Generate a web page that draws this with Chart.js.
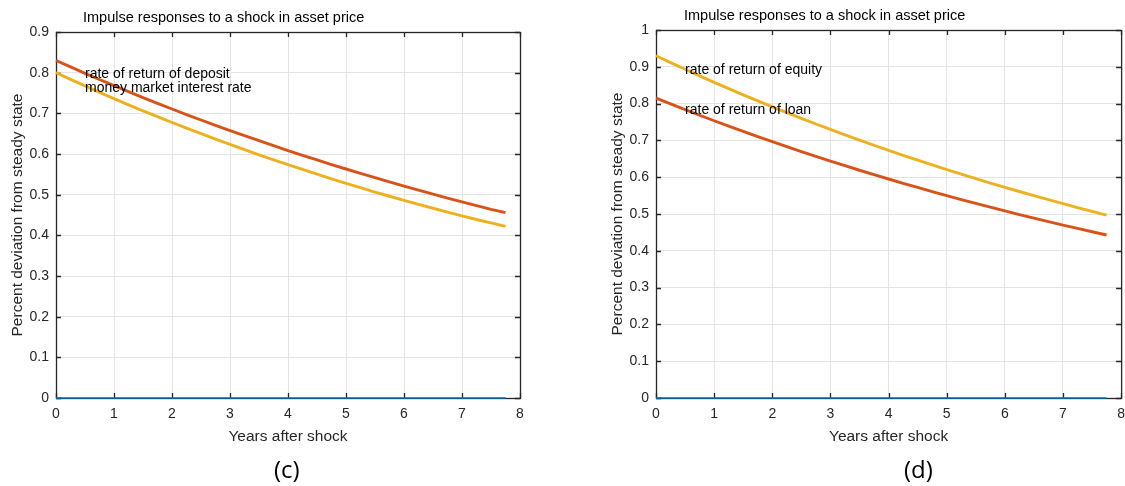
<!DOCTYPE html>
<html>
<head>
<meta charset="utf-8">
<script src="https://cdn.jsdelivr.net/npm/chart.js@4.4.1/dist/chart.umd.min.js"></script>
<style>
  body { margin: 0; background: #fff; width: 1125px; height: 486px; overflow: hidden; position: relative; }
  canvas { position: absolute; top: 0; }
  #left { left: 0; }
  #right { left: 600px; }
  .title { position: absolute; font: 14.5px "Liberation Sans", Arial, sans-serif; color: #000; white-space: nowrap; }
  .panel { position: absolute; top: 452px; font: 24px "Open Sans", "Noto Sans", sans-serif; color: #000; }
</style>
</head>
<body>
<canvas id="left" width="560" height="460"></canvas>
<canvas id="right" width="533" height="460"></canvas>
<div class="title" style="left:83px; top:9px;">Impulse responses to a shock in asset price</div>
<div class="title" style="left:684px; top:7px;">Impulse responses to a shock in asset price</div>
<div class="panel" style="left:274px;">(c)</div>
<div class="panel" style="left:904px;">(d)</div>
<script>
// quarters, expressed in years after the shock
var years = [0, 0.25, 0.5, 0.75, 1, 1.25, 1.5, 1.75, 2, 2.25, 2.5, 2.75, 3, 3.25, 3.5, 3.75,
             4, 4.25, 4.5, 4.75, 5, 5.25, 5.5, 5.75, 6, 6.25, 6.5, 6.75, 7, 7.25, 7.5, 7.75];

// panel (c)
var depositRate = [0.830, 0.8141, 0.7984, 0.7831, 0.7680, 0.7533, 0.7388, 0.7246, 0.7107, 0.6970, 0.6836,
                   0.6705, 0.6576, 0.6450, 0.6326, 0.6205, 0.6085, 0.5968, 0.5854, 0.5741, 0.5631, 0.5523,
                   0.5417, 0.5313, 0.5211, 0.5111, 0.5012, 0.4916, 0.4822, 0.4729, 0.4640, 0.4560];
var moneyMarketRate = [0.800, 0.7836, 0.7674, 0.7516, 0.7362, 0.7210, 0.7062, 0.6917, 0.6775, 0.6636, 0.6499,
                       0.6365, 0.6235, 0.6107, 0.5981, 0.5858, 0.5738, 0.5620, 0.5504, 0.5391, 0.5280, 0.5172,
                       0.5065, 0.4961, 0.4860, 0.4762, 0.4666, 0.4572, 0.4480, 0.4390, 0.4305, 0.4220];

// panel (d)
var equityReturn = [0.930, 0.9114, 0.8932, 0.8753, 0.8578, 0.8406, 0.8238, 0.8073, 0.7911, 0.7753, 0.7598,
                    0.7446, 0.7297, 0.7151, 0.7008, 0.6868, 0.6730, 0.6596, 0.6464, 0.6334, 0.6208, 0.6083,
                    0.5962, 0.5842, 0.5725, 0.5611, 0.5499, 0.5389, 0.5281, 0.5175, 0.5072, 0.4970];
var loanReturn = [0.815, 0.7991, 0.7836, 0.7683, 0.7534, 0.7387, 0.7243, 0.7102, 0.6964, 0.6829, 0.6696,
                  0.6565, 0.6437, 0.6312, 0.6189, 0.6069, 0.5951, 0.5835, 0.5721, 0.5610, 0.5500, 0.5393,
                  0.5288, 0.5185, 0.5084, 0.4985, 0.4888, 0.4793, 0.4700, 0.4608, 0.4518, 0.4430];

// first series of each panel stays at zero
var zeroLine = [0, 0, 0, 0, 0, 0, 0, 0, 0, 0, 0, 0, 0, 0, 0, 0,
                0, 0, 0, 0, 0, 0, 0, 0, 0, 0, 0, 0, 0, 0, 0, 0];

var xTicks = [0, 1, 2, 3, 4, 5, 6, 7, 8];

var BLUE = '#0072BD', RED = '#D95319', YELLOW = '#EDB120', AXIS = '#262626';
var FONT = '"Liberation Sans", Arial, sans-serif';

function points(ys) {
    return years.map(function(x, i) { return { x: x, y: ys[i] }; });
}

// box around the plot with inward ticks, plus the text labels
var framePlugin = {
    id: 'frame',
    beforeDatasetsDraw: function(chart) {
        var ctx = chart.ctx, a = chart.chartArea;
        var sx = chart.scales.x, sy = chart.scales.y;
        ctx.save();
        ctx.strokeStyle = AXIS;
        ctx.lineWidth = 1.3;
        ctx.strokeRect(a.left + 0.5, a.top + 0.5, a.right - a.left, a.bottom - a.top);
        ctx.beginPath();
        sx.ticks.forEach(function(t) {
            var px = Math.round(sx.getPixelForValue(t.value)) + 0.5;
            ctx.moveTo(px, a.bottom); ctx.lineTo(px, a.bottom - 5);
            ctx.moveTo(px, a.top); ctx.lineTo(px, a.top + 5);
        });
        sy.ticks.forEach(function(t) {
            var py = Math.round(sy.getPixelForValue(t.value)) + 0.5;
            ctx.moveTo(a.left, py); ctx.lineTo(a.left + 5, py);
            ctx.moveTo(a.right, py); ctx.lineTo(a.right - 5, py);
        });
        ctx.stroke();
        ctx.restore();
    },
    afterDatasetsDraw: function(chart, args, opts) {
        var ctx = chart.ctx;
        ctx.save();
        ctx.fillStyle = '#000';
        ctx.font = '14px ' + FONT;
        ctx.textBaseline = 'middle';
        (opts.notes || []).forEach(function(n) {
            ctx.fillText(n.text, chart.scales.x.getPixelForValue(n.x), chart.scales.y.getPixelForValue(n.y));
        });
        ctx.restore();
    }
};

function makeChart(id, yMax, datasets, notes, top, right) {
    return new Chart(document.getElementById(id), {
        type: 'line',
        data: { datasets: datasets },
        options: {
            responsive: false,
            animation: false,
            devicePixelRatio: 1,
            layout: { padding: { top: top, right: right, left: 0, bottom: 14 } },
            elements: { point: { radius: 0 } },
            plugins: { legend: { display: false }, tooltip: { enabled: false }, frame: { notes: notes } },
            scales: {
                x: {
                    type: 'linear', min: 0, max: 8,
                    afterBuildTicks: function(s) { s.ticks = xTicks.map(function(v) { return { value: v }; }); },
                    afterFit: function(s) { s.height = 48; },
                    grid: { color: '#e4e4e4', drawTicks: false },
                    border: { display: false },
                    ticks: { color: AXIS, font: { family: FONT, size: 14 }, padding: 8, maxRotation: 0 },
                    title: { display: true, text: 'Years after shock', color: AXIS, font: { family: FONT, size: 15.5 }, padding: { top: 4, bottom: 0 } }
                },
                y: {
                    min: 0, max: yMax,
                    afterFit: function(s) { s.width = 56; },
                    grid: { color: '#e4e4e4', drawTicks: false },
                    border: { display: false },
                    ticks: {
                        stepSize: 0.1, color: AXIS, font: { family: FONT, size: 14 }, padding: 7,
                        callback: function(v) { return String(Math.round(v * 10) / 10); }
                    },
                    title: { display: true, text: 'Percent deviation from steady state', color: AXIS, font: { family: FONT, size: 15.5 }, padding: { top: 8, bottom: 0 } }
                }
            }
        },
        plugins: [framePlugin]
    });
}

function line(ys, color, width) {
    return { data: points(ys), borderColor: color, borderWidth: width, fill: false, clip: false, tension: 0 };
}

makeChart('left', 0.9, [
    line(zeroLine, BLUE, 1.5),
    line(depositRate, RED, 2.9),
    line(moneyMarketRate, YELLOW, 2.9)
], [
    { text: 'rate of return of deposit', x: 0.5, y: 0.797 },
    { text: 'money market interest rate', x: 0.5, y: 0.763 }
], 32, 40);

makeChart('right', 1, [
    line(zeroLine, BLUE, 1.5),
    line(loanReturn, RED, 2.9),
    line(equityReturn, YELLOW, 2.9)
], [
    { text: 'rate of return of equity', x: 0.5, y: 0.892 },
    { text: 'rate of return of loan', x: 0.5, y: 0.783 }
], 30, 4);
</script>
</body>
</html>
